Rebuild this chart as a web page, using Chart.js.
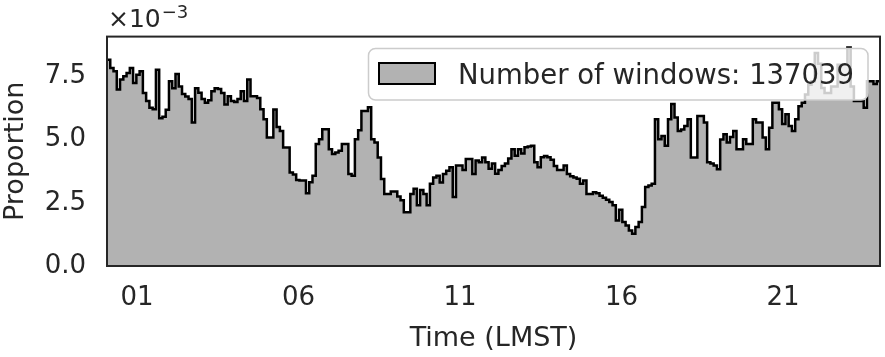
<!DOCTYPE html>
<html>
<head>
<meta charset="utf-8">
<script src="https://cdn.jsdelivr.net/npm/chart.js@4.4.0/dist/chart.umd.min.js"></script>
<style>
  html, body { margin: 0; padding: 0; background: #fff; }
  #wrap { width: 885px; height: 357px; }
</style>
</head>
<body>
<div id="wrap"><canvas id="chart" width="885" height="357"></canvas></div>
<script>
// proportion of windows per time bin, in units of 1e-3 (bins run left to right across the sol)
const proportionE3 = [
  8.15, 7.83, 7.70, 6.98, 7.37, 7.50, 7.63, 7.83, 7.24, 7.56,
  7.70, 6.84, 6.52, 6.26, 6.20, 7.76, 5.84, 5.90, 6.18, 7.30,
  7.03, 7.59, 7.10, 6.80, 6.70, 6.60, 5.67, 7.03, 6.85, 6.60,
  6.45, 6.55, 6.91, 7.03, 7.00, 6.84, 6.39, 6.71, 6.52, 6.48,
  6.60, 6.91, 6.52, 7.37, 6.71, 6.71, 6.64, 6.20, 5.80, 5.08,
  5.08, 6.19, 5.50, 5.34, 4.69, 4.69, 3.70, 3.62, 3.40, 3.38,
  3.38, 2.88, 3.31, 3.57, 4.82, 5.01, 5.41, 5.41, 4.62, 4.43,
  4.49, 4.56, 4.82, 4.82, 3.64, 3.57, 5.01, 5.37, 6.13, 6.13,
  6.28, 5.01, 4.88, 4.29, 3.44, 2.85, 2.85, 2.95, 2.95, 2.75,
  2.60, 2.13, 2.13, 2.85, 3.05, 2.40, 3.00, 2.85, 2.40, 3.25,
  3.50, 3.57, 3.30, 3.64, 3.77, 3.90, 2.73, 3.97, 3.97, 3.80,
  4.23, 4.23, 3.64, 4.17, 4.10, 4.29, 4.10, 3.85, 4.05, 3.65,
  3.80, 3.95, 4.05, 4.25, 4.62, 4.36, 4.62, 4.45, 4.70, 4.72,
  4.75, 4.10, 3.90, 4.30, 4.35, 4.30, 4.20, 3.95, 3.80, 3.80,
  3.97, 3.64, 3.55, 3.50, 3.45, 3.25, 3.38, 2.85, 2.85, 2.92,
  2.88, 2.78, 2.70, 2.62, 2.53, 2.40, 1.80, 2.22, 1.74, 1.60,
  1.40, 1.28, 1.54, 1.74, 2.33, 3.12, 3.18, 3.25, 5.80, 5.01,
  5.14, 4.75, 5.80, 6.41, 5.87, 5.34, 5.40, 5.54, 5.80, 4.29,
  4.29, 5.93, 5.93, 5.67, 4.10, 4.05, 3.97, 3.83, 5.00, 5.21,
  4.88, 5.10, 5.34, 4.62, 4.62, 5.01, 4.82, 4.82, 5.80, 5.67,
  5.67, 5.08, 4.62, 5.47, 6.45, 6.45, 6.20, 5.61, 6.00, 5.54,
  5.34, 5.80, 6.32, 6.45, 6.78, 7.17, 7.30, 8.42, 8.00, 7.04,
  6.84, 6.84, 7.10, 7.10, 7.96, 7.96, 7.96, 8.64, 7.10, 6.52,
  6.52, 6.52, 6.26, 7.30, 7.30, 7.20, 7.30
];
const xTicks = [1, 6, 11, 16, 21];
const yTicks = [0, 2.5, 5.0, 7.5];
const legendLabel = 'Number of windows: 137039';

const X_MIN = 0.07;
const X_MAX = 24.0;
const Y_MAX = 9.07;

const textColor = '#262626';
const fillGray = '#b2b2b2';
const fontFamily = '"DejaVu Sans", sans-serif';

// left bin edges, plus a closing point at the right edge
const binW = (X_MAX - X_MIN) / proportionE3.length;
const points = proportionE3.map((v, i) => ({ x: X_MIN + i * binW, y: v }));
points.push({ x: X_MAX, y: proportionE3[proportionE3.length - 1] });

const framePlugin = {
  id: 'frame',
  afterDatasetsDraw(chart) {
    const { ctx, chartArea: a } = chart;
    ctx.save();
    ctx.strokeStyle = textColor;
    ctx.lineWidth = 2;
    ctx.strokeRect(a.left, a.top, a.right - a.left, a.bottom - a.top);
    ctx.restore();
  }
};

const offsetTextPlugin = {
  id: 'offsetText',
  afterDraw(chart) {
    const ctx = chart.ctx;
    ctx.save();
    ctx.fillStyle = textColor;
    ctx.textBaseline = 'alphabetic';
    ctx.font = `25px ${fontFamily}`;
    ctx.fillText('×10', 108, 27);
    const w = ctx.measureText('×10').width;
    ctx.font = `18px ${fontFamily}`;
    ctx.fillText('−3', 108 + w + 1, 18);
    ctx.restore();
  }
};

const legendPlugin = {
  id: 'boxLegend',
  afterDraw(chart) {
    const ctx = chart.ctx;
    ctx.save();
    ctx.beginPath();
    ctx.roundRect(368.5, 48.5, 499.5, 51.5, 7);
    ctx.fillStyle = 'rgba(255,255,255,0.8)';
    ctx.fill();
    ctx.strokeStyle = '#cccccc';
    ctx.lineWidth = 1.5;
    ctx.stroke();

    ctx.fillStyle = fillGray;
    ctx.fillRect(379, 63, 56, 21);
    ctx.strokeStyle = '#000';
    ctx.lineWidth = 2;
    ctx.strokeRect(379, 63, 56, 21);

    ctx.fillStyle = textColor;
    ctx.font = `27.5px ${fontFamily}`;
    ctx.textBaseline = 'alphabetic';
    ctx.fillText(legendLabel, 458, 83.5);
    ctx.restore();
  }
};

new Chart(document.getElementById('chart'), {
  type: 'line',
  data: {
    datasets: [{
      data: points,
      stepped: true,
      fill: 'origin',
      backgroundColor: fillGray,
      borderColor: '#000',
      borderWidth: 2.5,
      borderJoinStyle: 'miter',
      pointRadius: 0
    }]
  },
  options: {
    responsive: false,
    animation: false,
    devicePixelRatio: 1,
    layout: { padding: { top: 35, right: 5, left: 0, bottom: 0 } },
    plugins: { legend: { display: false }, tooltip: { enabled: false } },
    scales: {
      x: {
        type: 'linear',
        min: X_MIN,
        max: X_MAX,
        afterBuildTicks: s => { s.ticks = xTicks.map(v => ({ value: v })); },
        afterFit: s => { s.height = 91; },
        grid: { display: false, drawTicks: false },
        border: { display: false },
        ticks: {
          autoSkip: false,
          maxRotation: 0,
          padding: 17,
          color: textColor,
          font: { family: fontFamily, size: 26 },
          callback: v => String(v).padStart(2, '0')
        },
        title: {
          display: true,
          text: 'Time (LMST)',
          color: textColor,
          font: { family: fontFamily, size: 27 },
          padding: { top: 0, bottom: 2 }
        }
      },
      y: {
        min: 0,
        max: Y_MAX,
        afterBuildTicks: s => { s.ticks = yTicks.map(v => ({ value: v })); },
        afterFit: s => { s.width = 107; },
        grid: { display: false, drawTicks: false },
        border: { display: false },
        ticks: {
          padding: 21,
          color: textColor,
          font: { family: fontFamily, size: 26 },
          callback: v => v.toFixed(1)
        },
        title: {
          display: true,
          text: 'Proportion',
          color: textColor,
          font: { family: fontFamily, size: 27 },
          padding: { top: 0, bottom: 0 }
        }
      }
    }
  },
  plugins: [framePlugin, offsetTextPlugin, legendPlugin]
});
</script>
</body>
</html>
